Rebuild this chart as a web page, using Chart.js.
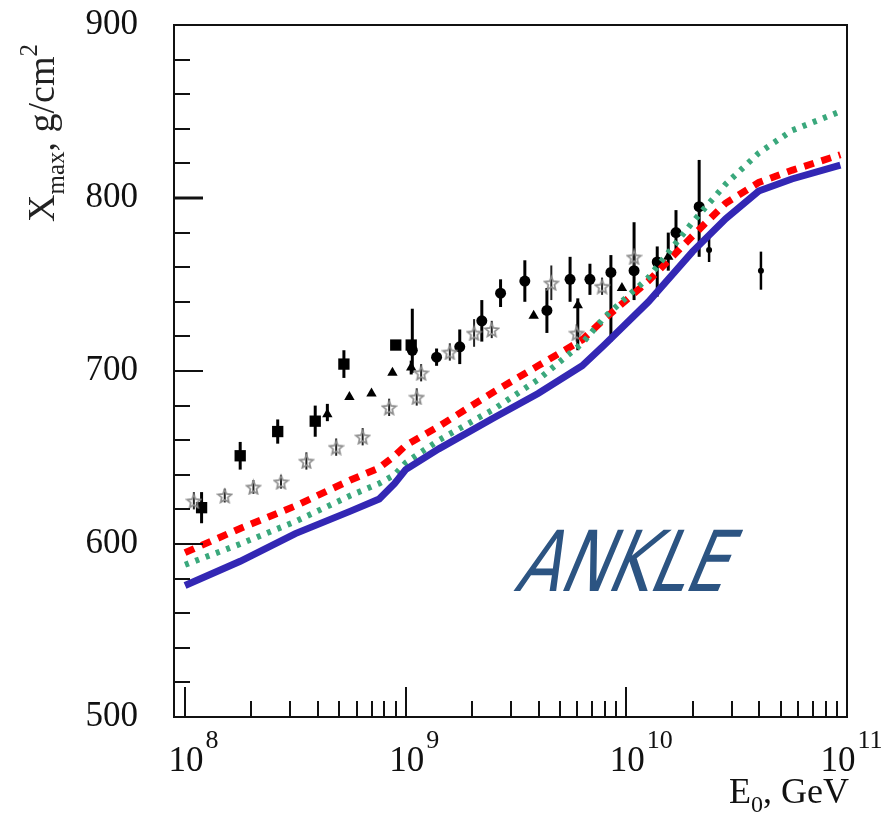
<!DOCTYPE html>
<html>
<head>
<meta charset="utf-8">
<title>Xmax vs E0</title>
<script src="https://cdn.jsdelivr.net/npm/chart.js@4.4.1/dist/chart.umd.min.js"></script>
<style>
  html, body { margin: 0; padding: 0; background: #fff; }
  #wrap { width: 888px; height: 816px; }
</style>
</head>
<body>
<div id="wrap"><canvas id="xmaxChart" width="888" height="816"></canvas></div>
<script>
// --- Model curves: lg(E0/GeV) grid and Xmax (g/cm2) ---
const curveLgE  = [8.0, 8.25, 8.5, 8.75, 8.88, 8.95, 9.0, 9.15, 9.4, 9.6, 9.8, 9.9, 10.1, 10.3, 10.45, 10.6, 10.75, 10.97];
const blueXmax  = [576, 590, 606, 619, 626, 635, 643, 655, 673, 687, 703, 715, 740, 769, 788, 804, 811, 819];
const redXmax   = [595, 609, 622, 637, 644, 651, 657, 668, 688, 703, 718, 730, 752, 778, 797, 809, 816, 825];
const greenXmax = [588, 600, 613, 628, 635, 640, 647, 660, 678, 695, 716, 731, 754, 786, 808, 826, 839, 850];

// --- Measurements ---
const squareLgE  = [8.075, 8.25, 8.42, 8.59, 8.72, 8.955, 9.025];
const squareXmax = [621, 651, 665, 671, 704, 715, 715];
const squareErr  = [9, 8, 7, 9, 8, 0, 0];

const triLgE   = [8.645, 8.745, 8.845, 8.94, 9.025, 9.58, 9.78, 9.98, 10.19];
const triXmax  = [675, 685, 687, 699, 702, 732, 738, 748, 766];
const triErrLo = [4, 0, 0, 0, 4, 0, 26, 0, 8];
const triErrHi = [6, 0, 0, 0, 4, 0, 4, 0, 14];

const starLgE  = [8.04, 8.18, 8.31, 8.435, 8.55, 8.685, 8.805, 8.925, 9.05, 9.07, 9.2, 9.31, 9.39, 9.66, 9.775, 9.89, 10.035];
const starXmax = [625, 628, 633, 636, 648, 656, 662, 679, 685, 699, 711, 722, 724, 751, 722, 749, 766];
const starErr  = [5, 4, 4, 4, 5, 5, 5, 5, 5, 5, 5, 8, 5, 10, 5, 5, 5];

const circleLgE   = [9.03, 9.14, 9.245, 9.345, 9.43, 9.54, 9.64, 9.745, 9.835, 9.93, 10.035, 10.14, 10.225, 10.33];
const circleXmax  = [712, 708, 714, 729, 745, 752, 735, 753, 753, 757, 758, 763, 780, 795];
const circleErrLo = [13, 5, 10, 12, 8, 12, 13, 13, 9, 40, 17, 20, 13, 29];
const circleErrHi = [24, 5, 10, 12, 8, 12, 13, 13, 9, 10, 28, 9, 13, 27];

const dotLgE  = [10.375, 10.61];
const dotXmax = [770, 758];
const dotErr  = [7, 11];

// --- Axes ---
const xDecades    = [8, 9, 10, 11];
const yTickValues = [500, 600, 700, 800, 900];
const Y_MIN = 500, Y_MAX = 900;
const X_MIN = Math.pow(10, 7.95), X_MAX = 1e11;

const SERIF = '"Liberation Serif", "Times New Roman", serif';

function toPoints(lgE, vals) {
    return lgE.map((lg, i) => ({ x: Math.pow(10, lg), y: vals[i] }));
}

// open five-point star used as a point style
function makeStar(size, color) {
    const c = document.createElement('canvas');
    c.width = size; c.height = size;
    const g = c.getContext('2d');
    const cx = size / 2, cy = size / 2 + 1, R = size / 2 - 1.5, r = R * 0.45;
    g.beginPath();
    for (let i = 0; i < 10; i++) {
        const a = -Math.PI / 2 + i * Math.PI / 5;
        const rad = i % 2 ? r : R;
        g.lineTo(cx + rad * Math.cos(a), cy + rad * Math.sin(a));
    }
    g.closePath();
    g.strokeStyle = color;
    g.lineWidth = 1.7;
    g.stroke();
    return c;
}

// vertical error bars, drawn just under each marker set
const errorBars = {
    id: 'errorBars',
    beforeDatasetDraw(chart, args) {
        const ds = chart.data.datasets[args.index];
        if (!ds.errLo) return;
        const { ctx, scales: { x, y } } = chart;
        ctx.save();
        ctx.strokeStyle = ds.errColor || '#000';
        ctx.lineWidth = ds.errWidth || 3;
        ds.data.forEach((p, i) => {
            const lo = ds.errLo[i], hi = ds.errHi[i];
            if (!lo && !hi) return;
            const px = x.getPixelForValue(p.x);
            ctx.beginPath();
            ctx.moveTo(px, y.getPixelForValue(p.y - lo));
            ctx.lineTo(px, y.getPixelForValue(p.y + hi));
            ctx.stroke();
        });
        ctx.restore();
    }
};

// frame with inward ticks, tick labels and axis titles
const frameAxes = {
    id: 'frameAxes',
    afterDraw(chart) {
        const { ctx, chartArea: a, scales: { x, y } } = chart;
        ctx.save();
        ctx.strokeStyle = '#111';
        ctx.lineWidth = 2;
        ctx.strokeRect(a.left, a.top, a.right - a.left, a.bottom - a.top);

        // y ticks every 20, long ones at the hundreds
        for (let v = Y_MIN + 20; v < Y_MAX; v += 20) {
            const py = Math.round(y.getPixelForValue(v));
            const major = v % 100 === 0;
            ctx.lineWidth = v === 800 ? 3 : 2;
            ctx.beginPath();
            ctx.moveTo(a.left, py);
            ctx.lineTo(a.left + (major ? 29 : 16), py);
            ctx.stroke();
        }
        // x ticks: decades and 2..9 inside each decade
        ctx.lineWidth = 2;
        xDecades.forEach(d => {
            const px = Math.round(x.getPixelForValue(Math.pow(10, d)));
            ctx.beginPath();
            ctx.moveTo(px, a.bottom);
            ctx.lineTo(px, a.bottom - 30);
            ctx.stroke();
            if (d === 11) return;
            for (let m = 2; m <= 9; m++) {
                const pm = Math.round(x.getPixelForValue(m * Math.pow(10, d)));
                ctx.beginPath();
                ctx.moveTo(pm, a.bottom);
                ctx.lineTo(pm, a.bottom - 16);
                ctx.stroke();
            }
        });

        ctx.fillStyle = '#111';
        // y tick labels
        ctx.font = '35px ' + SERIF;
        ctx.textAlign = 'right';
        ctx.textBaseline = 'middle';
        yTickValues.forEach(v => {
            ctx.fillText(String(v), 138, y.getPixelForValue(v));
        });

        // x tick labels 10^n (the last one sits left of the frame corner)
        ctx.textBaseline = 'alphabetic';
        xDecades.forEach(d => {
            let px = x.getPixelForValue(Math.pow(10, d)) + 1;
            if (d === 11) px -= 10;
            ctx.font = '35px ' + SERIF;
            ctx.textAlign = 'center';
            ctx.fillText('10', px, 771);
            const w = ctx.measureText('10').width;
            ctx.font = '26px ' + SERIF;
            ctx.textAlign = 'left';
            ctx.fillText(String(d), px + w / 2 + 2, 748);
        });

        // x title: E0, GeV
        ctx.textAlign = 'left';
        const xParts = [['E', 36, 0], ['0', 24, 9], [', GeV', 36, 0]];
        let total = 0;
        xParts.forEach(([t, s]) => { ctx.font = s + 'px ' + SERIF; total += ctx.measureText(t).width; });
        let cx = 849 - total;
        xParts.forEach(([t, s, dy]) => {
            ctx.font = s + 'px ' + SERIF;
            ctx.fillText(t, cx, 803 + dy);
            cx += ctx.measureText(t).width;
        });

        // y title: Xmax, g/cm2 (rotated)
        ctx.fillStyle = '#222';
        ctx.translate(54, 222);
        ctx.rotate(-Math.PI / 2);
        const yParts = [['X', 38, 0], ['max', 25, 10], [',', 38, 0], [' g/cm', 38, 0], ['2', 25, -17]];
        let ty = 0;
        yParts.forEach(([t, s, dy]) => {
            ctx.font = s + 'px ' + SERIF;
            ctx.fillText(t, ty, dy);
            ty += ctx.measureText(t).width;
        });
        ctx.restore();

        // ANKLE label
        ctx.save();
        ctx.setTransform(0.76, 0, -0.42, 1, 513, 591);
        ctx.font = '84px "DejaVu Sans", sans-serif';
        ctx.fillStyle = '#2c5482';
        ctx.textAlign = 'left';
        ctx.textBaseline = 'alphabetic';
        ctx.fillText('ANKLE', 0, 0);
        ctx.restore();
    }
};

const starStyle = makeStar(17, '#8c8c8c');

const datasets = [
    {
        label: 'blue', data: toPoints(curveLgE, blueXmax), showLine: true,
        borderColor: '#3327b4', borderWidth: 7, pointRadius: 0, tension: 0
    },
    {
        label: 'green', data: toPoints(curveLgE, greenXmax), showLine: true,
        borderColor: '#3aa87c', borderWidth: 6, borderDash: [4, 7], pointRadius: 0, tension: 0
    },
    {
        label: 'red', data: toPoints(curveLgE, redXmax), showLine: true,
        borderColor: '#ff0000', borderWidth: 7, borderDash: [10, 8], pointRadius: 0, tension: 0
    },
    {
        label: 'stars', data: toPoints(starLgE, starXmax), pointStyle: starStyle,
        errLo: starErr, errHi: starErr, errWidth: 2, errColor: '#222'
    },
    {
        label: 'squares', data: toPoints(squareLgE, squareXmax), pointStyle: 'rect',
        pointRadius: 8, backgroundColor: '#000', borderColor: '#000', borderWidth: 0,
        errLo: squareErr, errHi: squareErr
    },
    {
        label: 'triangles', data: toPoints(triLgE, triXmax), pointStyle: 'triangle',
        pointRadius: 6, backgroundColor: '#000', borderColor: '#000', borderWidth: 0,
        errLo: triErrLo, errHi: triErrHi
    },
    {
        label: 'circles', data: toPoints(circleLgE, circleXmax), pointStyle: 'circle',
        pointRadius: 5.5, backgroundColor: '#000', borderColor: '#000', borderWidth: 0,
        errLo: circleErrLo, errHi: circleErrHi
    },
    {
        label: 'dots', data: toPoints(dotLgE, dotXmax), pointStyle: 'circle',
        pointRadius: 3, backgroundColor: '#000', borderColor: '#000', borderWidth: 0,
        errLo: dotErr, errHi: dotErr, errWidth: 2.5
    }
];

new Chart(document.getElementById('xmaxChart'), {
    type: 'scatter',
    data: { datasets: datasets },
    options: {
        responsive: false,
        devicePixelRatio: 1,
        animation: false,
        layout: { padding: { left: 174, top: 25, right: 41, bottom: 99 } },
        plugins: { legend: { display: false }, tooltip: { enabled: false } },
        scales: {
            x: { type: 'logarithmic', min: X_MIN, max: X_MAX, display: false },
            y: { type: 'linear', min: Y_MIN, max: Y_MAX, display: false }
        }
    },
    plugins: [errorBars, frameAxes]
});
</script>
</body>
</html>
